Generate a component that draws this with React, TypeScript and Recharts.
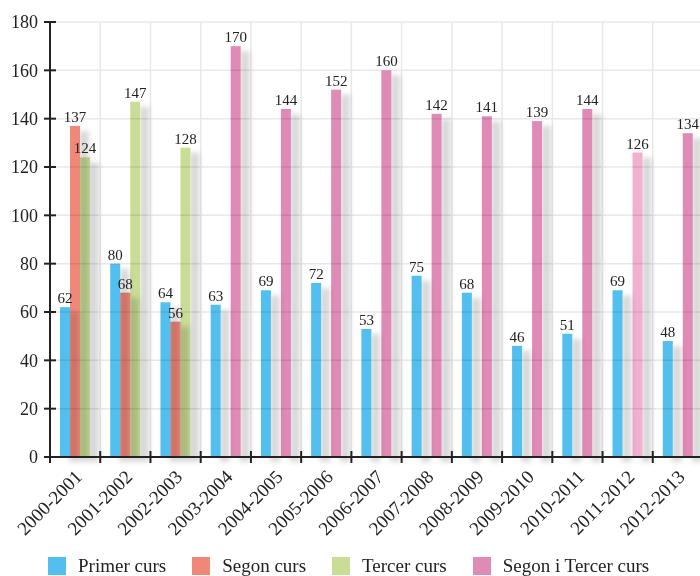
import React from "react";
import { BarChart, Bar, XAxis, YAxis, CartesianGrid, LabelList, Cell } from "recharts";

const years = [
  "2000-2001", "2001-2002", "2002-2003", "2003-2004", "2004-2005", "2005-2006", "2006-2007",
  "2007-2008", "2008-2009", "2009-2010", "2010-2011", "2011-2012", "2012-2013",
];
const primer = [62, 80, 64, 63, 69, 72, 53, 75, 68, 46, 51, 69, 48];
const segon = [137, 68, 56, null, null, null, null, null, null, null, null, null, null];
const tercer = [124, 147, 128, null, null, null, null, null, null, null, null, null, null];
const segonTercer = [null, null, null, 170, 144, 152, 160, 142, 141, 139, 144, 126, 134];
const yTicks = [0, 20, 40, 60, 80, 100, 120, 140, 160, 180];

const BLUE = "#52bfee";
const SALMON = "#f0887a";
const GREEN = "#cadd97";
const PINK = "#e08ab6";
const PINK_LIGHT = "#f1b0d1";

const series = [
  { key: "primer", name: "Primer curs", color: BLUE },
  { key: "segon", name: "Segon curs", color: SALMON },
  { key: "tercer", name: "Tercer curs", color: GREEN },
  { key: "segonTercer", name: "Segon i Tercer curs", color: PINK },
];

const data = years.map((year, i) => ({
  year,
  primer: primer[i],
  segon: segon[i],
  tercer: tercer[i],
  segonTercer: segonTercer[i],
}));

const CHART_W = 720;
const CHART_H = 600;
const MARGIN = { top: 22, right: 17, left: 0, bottom: 83 };
const Y_AXIS_W = 50;
const PLOT_W = CHART_W - MARGIN.left - MARGIN.right - Y_AXIS_W;
const BAND = PLOT_W / years.length;
const FONT = "'Liberation Serif', 'Times New Roman', serif";
const INK = "#222";

function ShadowBar(props: any) {
  const { x, y, width, height, fill } = props;
  if (!height || height <= 0) return <g />;
  return (
    <rect
      x={x}
      y={y}
      width={width}
      height={height}
      fill={fill}
      filter="url(#barShadow)"
      style={{ mixBlendMode: "multiply" }}
    />
  );
}

function ValueLabel(props: any) {
  const { x, y, width, value } = props;
  if (value == null) return null;
  return (
    <text x={x + width / 2} y={y - 4} textAnchor="middle" fontSize={15} fill={INK} fontFamily={FONT}>
      {value}
    </text>
  );
}

function YTick({ x, y, payload }: any) {
  return (
    <g>
      <line x1={x - 6} x2={x + 6} y1={y} y2={y} stroke={INK} strokeWidth={2} />
      <text x={x - 12} y={y} dy="0.35em" textAnchor="end" fontSize={18} fill={INK} fontFamily={FONT}>
        {payload.value}
      </text>
    </g>
  );
}

function XTick({ x, y, payload }: any) {
  const bx = x - BAND / 2;
  const tx = x + 8;
  const ty = y + 21;
  return (
    <g>
      <line x1={bx} x2={bx} y1={y - 6} y2={y + 6} stroke={INK} strokeWidth={2} />
      <text
        x={tx}
        y={ty}
        textAnchor="end"
        transform={`rotate(-45 ${tx} ${ty})`}
        fontSize={19}
        fill={INK}
        fontFamily={FONT}
      >
        {payload.value}
      </text>
    </g>
  );
}

export default function App() {
  return (
    <div
      style={{
        position: "fixed",
        left: 0,
        top: 0,
        width: 700,
        height: 576,
        overflow: "hidden",
        background: "#fff",
      }}
    >
      <BarChart
        width={CHART_W}
        height={CHART_H}
        data={data}
        margin={MARGIN}
        barCategoryGap={10}
        barGap={0}
      >
        <defs>
          <filter id="barShadow" filterUnits="userSpaceOnUse" x={0} y={0} width={CHART_W} height={CHART_H}>
            <feDropShadow dx={9} dy={5} stdDeviation={2.5} floodColor="#000" floodOpacity={0.15} />
          </filter>
        </defs>
        <CartesianGrid
          stroke="#e8e8e8"
          strokeWidth={1.5}
          verticalCoordinatesGenerator={({ offset }: any) =>
            years.map((_, i) => offset.left + (i + 1) * (offset.width / years.length))
          }
        />
        <Bar dataKey="primer" name="Primer curs" stackId="a" fill={BLUE} shape={ShadowBar} isAnimationActive={false}>
          <LabelList dataKey="primer" content={ValueLabel} />
        </Bar>
        <Bar dataKey="segon" name="Segon curs" stackId="b" fill={SALMON} shape={ShadowBar} isAnimationActive={false}>
          <LabelList dataKey="segon" content={ValueLabel} />
        </Bar>
        <Bar dataKey="tercer" name="Tercer curs" stackId="c" fill={GREEN} shape={ShadowBar} isAnimationActive={false}>
          <LabelList dataKey="tercer" content={ValueLabel} />
        </Bar>
        <Bar
          dataKey="segonTercer"
          name="Segon i Tercer curs"
          stackId="c"
          fill={PINK}
          shape={ShadowBar}
          isAnimationActive={false}
        >
          {years.map((y) => (
            <Cell key={y} fill={y === "2011-2012" ? PINK_LIGHT : PINK} />
          ))}
          <LabelList dataKey="segonTercer" content={ValueLabel} />
        </Bar>
        <XAxis
          dataKey="year"
          height={60}
          interval={0}
          tickSize={0}
          tickMargin={0}
          tickLine={false}
          axisLine={{ stroke: INK, strokeWidth: 2 }}
          tick={XTick}
        />
        <YAxis
          width={Y_AXIS_W}
          domain={[0, 180]}
          ticks={yTicks}
          interval={0}
          tickSize={0}
          tickMargin={0}
          tickLine={false}
          axisLine={{ stroke: INK, strokeWidth: 2 }}
          tick={YTick}
        />
      </BarChart>
      <div
        style={{
          position: "absolute",
          left: 48,
          top: 557,
          display: "flex",
          alignItems: "center",
          gap: 26,
          fontFamily: FONT,
          fontSize: 19,
          color: INK,
          whiteSpace: "nowrap",
        }}
      >
        {series.map((s) => (
          <div key={s.key} style={{ display: "flex", alignItems: "center", gap: 12 }}>
            <span style={{ width: 18, height: 18, background: s.color, display: "inline-block" }} />
            <span style={{ lineHeight: "18px" }}>{s.name}</span>
          </div>
        ))}
      </div>
    </div>
  );
}
